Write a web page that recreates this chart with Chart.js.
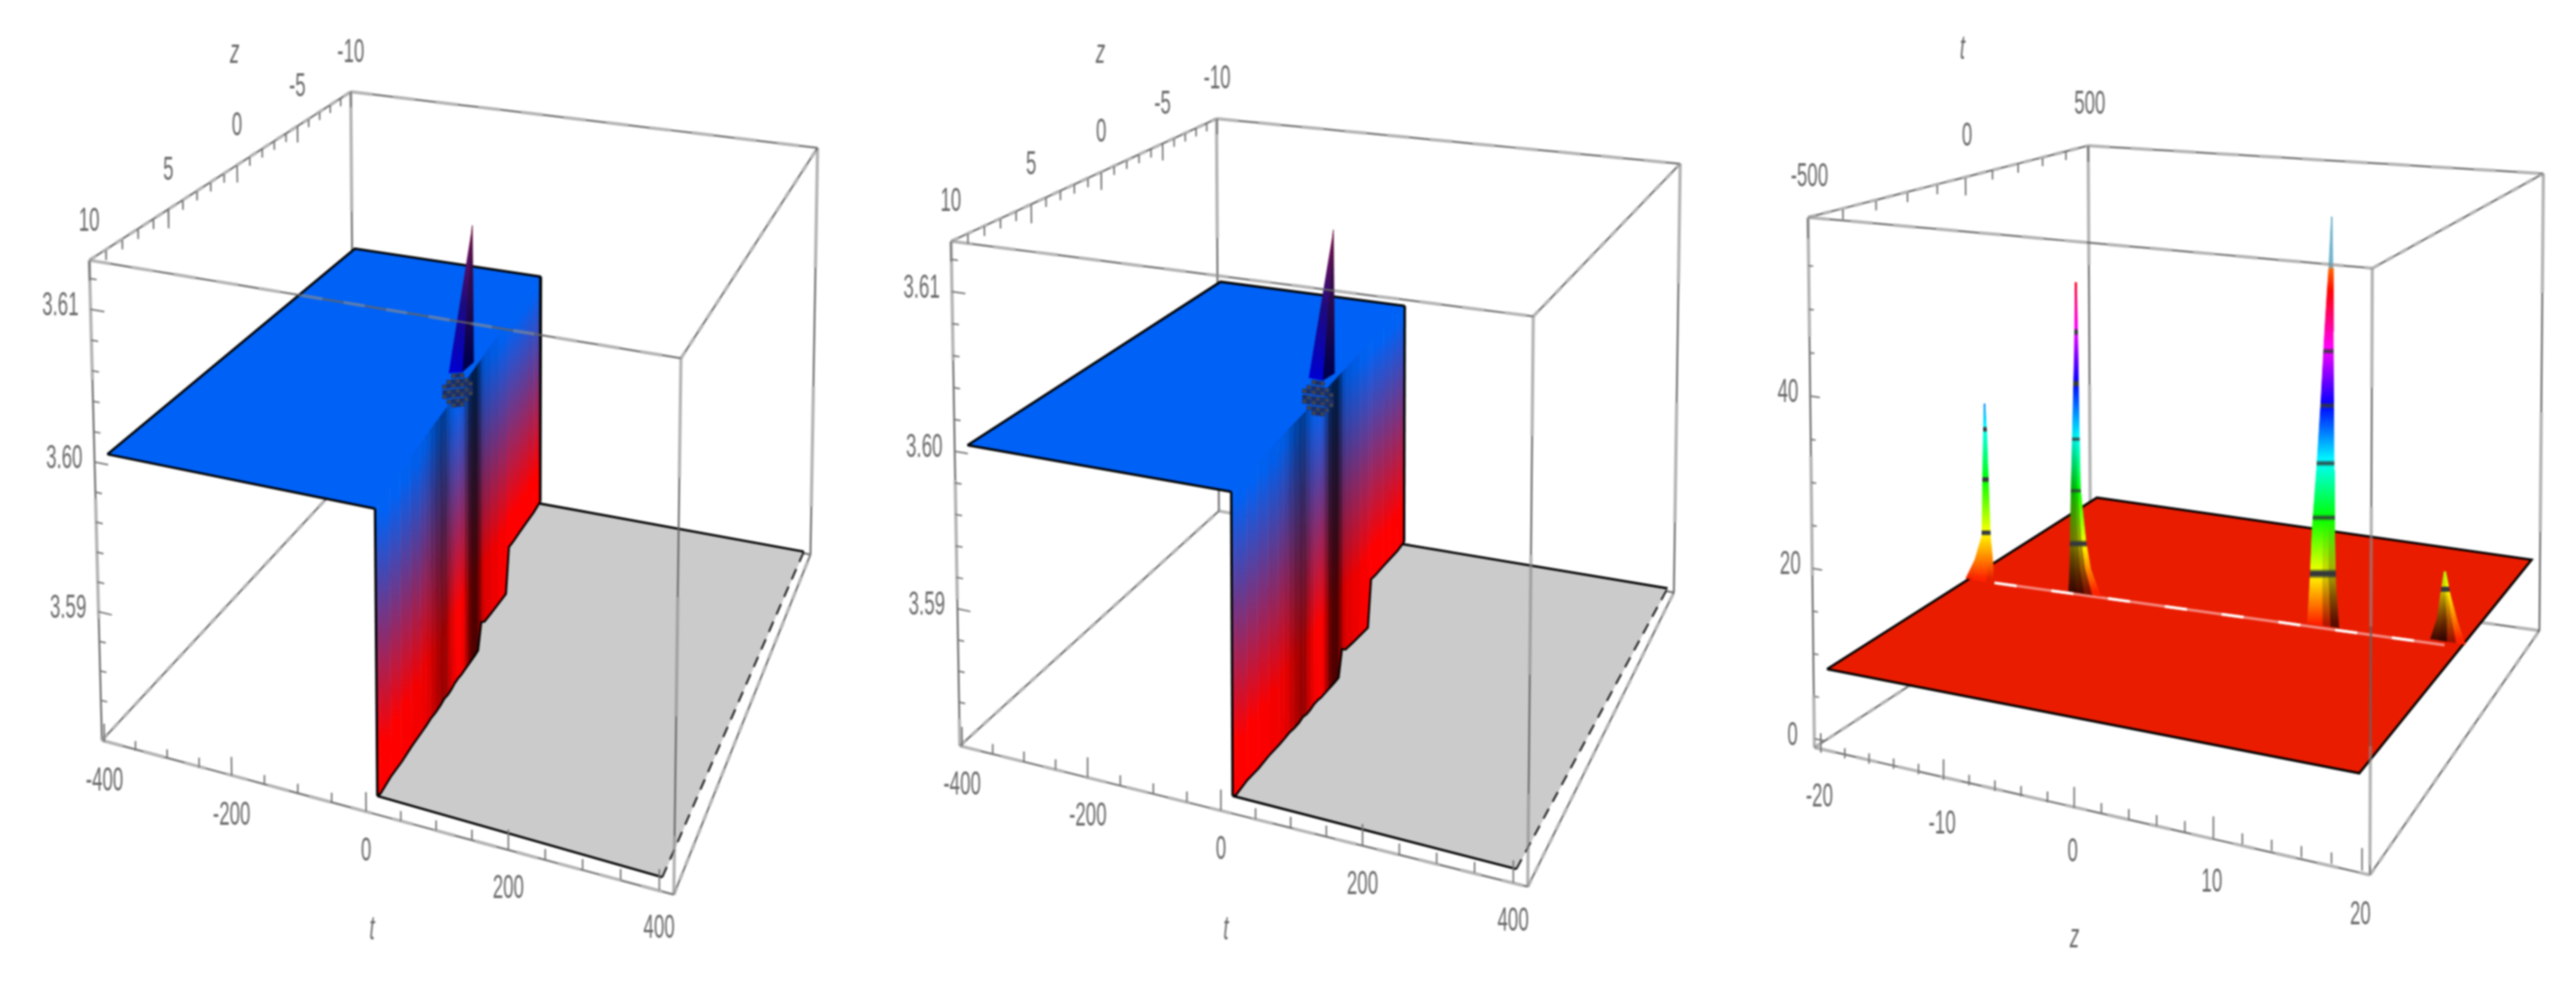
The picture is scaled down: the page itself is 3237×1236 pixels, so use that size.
<!DOCTYPE html>
<html>
<head>
<meta charset="utf-8">
<title>3D surfaces</title>
<script src="https://cdn.jsdelivr.net/npm/chart.js@4"></script>
<style>
html, body { margin: 0; background: #fff; overflow: hidden; }
canvas { position: absolute; top: 0; filter: blur(0.9px); }
</style>
</head>
<body>
<canvas id="p1" width="1080" height="1236" style="left:0"></canvas>
<canvas id="p2" width="1080" height="1236" style="left:1080px"></canvas>
<canvas id="p3" width="1077" height="1236" style="left:2160px"></canvas>
<script>
// step surface (left and middle plots)
const stepT = [-405, 420];
const stepZ = [10, -10];
const stepV = [3.5812, 3.6131];
const tMajor = [-400, -200, 0, 200, 400];
const tMinor = [-350, -300, -250, -150, -100, -50, 50, 100, 150, 250, 300, 350];
const zMajor = [10, 5, 0, -5, -10];
const zMinor = [9, 8, 7, 6, 4, 3, 2, 1, -1, -2, -3, -4, -6, -7, -8, -9];
const vMajor = [3.59, 3.6, 3.61];
const vMinor = [3.584, 3.586, 3.588, 3.592, 3.594, 3.596, 3.598, 3.602, 3.604, 3.606, 3.608, 3.612];

const plateauV = 3.6;
const plateauStart = -400;
const plateauZ = [9.4, -10];
const wallZ = [9.4, 9, 8, 7, 6, 5, 4.5, 4, 3.5, 3, 2.6, 2.2, 1.8, 1.4, 1, 0.6, 0.2, -0.2, -0.6, -1, -1.4, -1.8, -2.2, -3, -4, -5, -5.4, -6, -7, -8, -9, -10];
const wallT = [5, 2, -0.5, -3, -6, -9, -10, -11.5, -13, -14, -15, -16, -17.5, -18.5, -19.5, -21, -22, -23, -24, -25, -26.5, -27.5, -28.5, -31, -33.5, -36, -37, -39, -42, -44.5, -47, -50];
const wallBase = [3.5815, 3.5811, 3.581, 3.5807, 3.5805, 3.5802, 3.5801, 3.58, 3.5798, 3.5797, 3.5797, 3.5795, 3.5794, 3.5794, 3.5793, 3.5791, 3.579, 3.5789, 3.5788, 3.5787, 3.5786, 3.5803, 3.5799, 3.5796, 3.5793, 3.579, 3.5823, 3.5821, 3.5819, 3.5817, 3.5815, 3.5814];
const wallLight = [1, 1, 1, 1, 0.97, 0.95, 0.92, 0.85, 0.72, 0.65, 0.55, 0.7, 0.85, 0.95, 1, 1, 0.9, 0.5, 0.32, 0.3, 0.3, 0.75, 0.85, 0.92, 0.95, 1, 1, 1, 1, 1, 1, 1];
const floorT = [5, 404, 410, -65];
const floorZ = [9.4, 10, -10, -10];
const floorV = [3.5815, 3.582, 3.5815, 3.5812];
const coneZ = [1.2, -0.1, -1.2, -1.1];
const coneV = [3.6015, 3.6005, 3.6003, 3.6103];
const checkZ = [1.6, 1.2, 0.75, 0.35, -0.05, -0.5, -0.9];
const checkV = [3.5985, 3.5988, 3.5992, 3.5995, 3.5999, 3.6002, 3.6006];

// soliton sheet (right plot)
const sheetA = [-20.5, 20.5];
const sheetB = [-500, 500];
const sheetBox = [-1.5, 60.4];
const zMajor3 = [-20, -10, 0, 10, 20];
const zMinor3 = [-18, -16, -14, -12, -8, -6, -4, -2, 2, 4, 6, 8, 12, 14, 16, 18];
const tMajor3 = [-500, 0, 500];
const tMinor3 = [-400, -300, -200, -100, 100, 200, 300, 400];
const vMajor3 = [0, 20, 40];
const vMinor3 = [5, 10, 15, 25, 30, 35, 45, 50, 55];
const sheetLevel = 8.5;
const sheetZ = [-19.4, 19.8, 19.8, -19.8];
const sheetT = [-500, -500, 500, 500];
const ridgeZ = [-17.3, 18.6];
const ridgeT = [-35, 20];
const meshLevels = [15, 21.9, 28.5, 35.5, 42.3];

const spike1T = -55;
const spike1V = [9, 11.7, 15, 22.5, 28.1, 32.2];
const spike1L = [-19.4, -18.55, -17.9, -17.8, -17.7, -17.6];
const spike1R = [-16.9, -16.95, -17.15, -17.3, -17.4, -17.55];
const spike2T = -35;
const spike2V = [9, 12.3, 15.7, 22.3, 32.3, 40, 48.6];
const spike2L = [-10.72, -10.62, -10.57, -10.47, -10.27, -10.12, -10.02];
const spike2R = [-7.97, -8.82, -9.22, -9.67, -9.77, -9.82, -9.92];
const spike3T = 0;
const spike3V = [9, 14.4, 20.5, 28.2, 35.8, 45, 52.7, 58.8];
const spike3L = [8.37, 8.57, 8.72, 9.07, 9.37, 9.67, 9.97, 10.17];
const spike3R = [10.82, 10.57, 10.47, 10.42, 10.37, 10.32, 10.27, 10.22];
const spike4T = 18;
const spike4V = [9, 11.6, 14.7, 17.4];
const spike4L = [17.57, 18.07, 18.32, 18.57];
const spike4R = [20.17, 19.57, 19.02, 18.67];

// where the eight box corners land on each canvas (A B C D top, E F G H bottom)
const view1 = [[109, 325], [858, 449], [1031, 183], [440, 112], [125, 932], [849, 1127], [1022, 697], [444, 589]];
const view2 = [[112, 301], [849, 396], [1035, 203], [448, 146], [123, 939], [842, 1117], [1027, 745], [451, 642]];
const view3 = [[112, 273], [821, 337], [1036, 218], [464, 183], [120, 939], [818, 1099], [1031, 792], [467, 713]];

function solve(A, b) {
    const n = b.length;
    for (let i = 0; i < n; i++) {
        let p = i;
        for (let r = i + 1; r < n; r++) if (Math.abs(A[r][i]) > Math.abs(A[p][i])) p = r;
        [A[i], A[p]] = [A[p], A[i]];
        [b[i], b[p]] = [b[p], b[i]];
        for (let r = i + 1; r < n; r++) {
            const f = A[r][i] / A[i][i];
            for (let c = i; c < n; c++) A[r][c] -= f * A[i][c];
            b[r] -= f * b[i];
        }
    }
    const x = new Array(n).fill(0);
    for (let i = n - 1; i >= 0; i--) {
        let s = b[i];
        for (let c = i + 1; c < n; c++) s -= A[i][c] * x[c];
        x[i] = s / A[i][i];
    }
    return x;
}

// least squares perspective camera from the box corners
function makeCamera(corners, aBox, bBox, vBox) {
    const unit = [[0, 0, 1], [1, 0, 1], [1, 1, 1], [0, 1, 1], [0, 0, 0], [1, 0, 0], [1, 1, 0], [0, 1, 0]];
    const rows = [], rhs = [];
    unit.forEach((w, i) => {
        const [u, v] = corners[i];
        rows.push([w[0], w[1], w[2], 1, 0, 0, 0, 0, -u * w[0], -u * w[1], -u * w[2]]);
        rhs.push(u);
        rows.push([0, 0, 0, 0, w[0], w[1], w[2], 1, -v * w[0], -v * w[1], -v * w[2]]);
        rhs.push(v);
    });
    const N = [], M = [];
    for (let i = 0; i < 11; i++) {
        N.push([]);
        for (let j = 0; j < 11; j++) N[i].push(rows.reduce((s, r) => s + r[i] * r[j], 0));
        M.push(rows.reduce((s, r, k) => s + r[i] * rhs[k], 0));
    }
    const p = solve(N, M);
    return (a, b, v) => {
        const X = (a - aBox[0]) / (aBox[1] - aBox[0]);
        const Y = (b - bBox[0]) / (bBox[1] - bBox[0]);
        const Z = (v - vBox[0]) / (vBox[1] - vBox[0]);
        const w = p[8] * X + p[9] * Y + p[10] * Z + 1;
        return {
            x: (p[0] * X + p[1] * Y + p[2] * Z + p[3]) / w,
            y: (p[4] * X + p[5] * Y + p[6] * Z + p[7]) / w
        };
    };
}

function poly(points, color) {
    return { data: points, showLine: true, fill: 'shape', backgroundColor: color, borderColor: color, borderWidth: 1, pointRadius: 0, clip: false };
}

function line(points, color, width, dash, offset) {
    return { data: points, showLine: true, fill: false, borderColor: color, borderWidth: width, borderDash: dash || [], borderDashOffset: offset || 0, pointRadius: 0, clip: false };
}

// the gray and dark stepping of the Mathematica box lines
function boxEdge(list, p, q, dash) {
    list.push(line([p, q], 'rgba(140,140,140,0.65)', 4, [dash, dash]));
    list.push(line([p, q], 'rgba(100,100,100,0.9)', 2.5, [dash, dash], dash));
}

function ticks(list, labels, vals, at, tickDir, size, text, offset) {
    vals.forEach(val => {
        const p = at(val);
        list.push(line([p, tickDir(val, size)], '#777', 2));
        if (text) labels.push({ x: p.x + offset[0], y: p.y + offset[1], text: text(val) });
    });
}

function makeChart(id, datasets, labels, titles) {
    const canvas = document.getElementById(id);
    const textPlugin = {
        id: 'plotText',
        afterDatasetsDraw(chart) {
            const ctx = chart.ctx;
            ctx.save();
            ctx.textAlign = 'center';
            ctx.textBaseline = 'middle';
            ctx.fillStyle = '#686868';
            labels.concat(titles).forEach(l => {
                ctx.save();
                ctx.translate(chart.scales.x.getPixelForValue(l.x), chart.scales.y.getPixelForValue(l.y));
                ctx.scale(0.56, 1);
                ctx.font = (l.italic ? 'italic ' : '') + '42px "Liberation Sans"';
                ctx.fillText(l.text, 0, 0);
                ctx.restore();
            });
            ctx.restore();
        }
    };
    return new Chart(canvas, {
        type: 'scatter',
        data: { datasets: datasets.reverse() },
        plugins: [textPlugin],
        options: {
            responsive: false,
            animation: false,
            events: [],
            parsing: false,
            layout: { padding: 0 },
            plugins: { legend: { display: false }, tooltip: { enabled: false } },
            scales: {
                x: { type: 'linear', display: false, min: 0, max: canvas.width },
                y: { type: 'linear', display: false, min: 0, max: canvas.height, reverse: true }
            }
        }
    });
}

function mix(c1, c2, f) {
    return c1.map((c, i) => c + (c2[i] - c) * f);
}

function rgb(c) {
    return 'rgb(' + c.map(Math.round).join(',') + ')';
}

function stepPanel(id, corners) {
    const ctx = document.getElementById(id).getContext('2d');
    const cam = makeCamera(corners, stepT, stepZ, stepV);
    const ds = [], labels = [];
    const A = corners[0], B = corners[1], C = corners[2], D = corners[3], E = corners[4], F = corners[5], G = corners[6], H = corners[7];
    const pt = c => ({ x: c[0], y: c[1] });

    boxEdge(ds, pt(D), pt(C), 27);
    boxEdge(ds, pt(C), pt(G), 150);
    boxEdge(ds, pt(D), pt(H), 150);
    boxEdge(ds, pt(H), pt(G), 27);
    boxEdge(ds, pt(E), pt(H), 10);

    // gray floor past the step
    const floor = floorT.map((t, i) => cam(t, floorZ[i], floorV[i]));
    ds.push(poly(floor, '#cbcbcb'));
    ds.push(line([floor[0], floor[1]], '#000', 3));
    ds.push(line([floor[3], floor[2]], '#000', 3));
    ds.push(line([floor[1], floor[2]], '#222', 2.5, [14, 10]));

    // blue plateau
    const last = wallZ.length - 1;
    const plateau = [cam(plateauStart, plateauZ[0], plateauV), cam(plateauStart, plateauZ[1], plateauV), cam(wallT[last], wallZ[last], plateauV), cam(wallT[0], wallZ[0], plateauV)];
    ds.push(poly(plateau, '#0061f6'));

    // the drop, one column per z sample, fading blue to red
    const blue = [0, 98, 245], red = [255, 0, 0];
    for (let i = 0; i < last; i++) {
        const light = (wallLight[i] + wallLight[i + 1]) / 2;
        const top = cam(wallT[i], wallZ[i], plateauV), bot = cam(wallT[i], wallZ[i], 3.582);
        const g = ctx.createLinearGradient(0, top.y, 0, bot.y);
        [0, 0.03, 0.2, 0.4, 0.6, 0.85, 1].forEach(f => {
            const k = Math.min(1, Math.max(0, (f - 0.03) / 0.82));
            g.addColorStop(f, rgb(mix(blue, red, k).map(c => c * light)));
        });
        ds.push(poly([
            cam(wallT[i], wallZ[i], plateauV), cam(wallT[i + 1], wallZ[i + 1], plateauV),
            cam(wallT[i + 1], wallZ[i + 1], wallBase[i + 1]), cam(wallT[i], wallZ[i], wallBase[i])
        ], g));
    }
    ds.push(line(wallZ.map((z, i) => cam(wallT[i], z, wallBase[i])), '#000', 2.5));
    ds.push(line([plateau[0], plateau[1], plateau[2]], '#000', 3));
    ds.push(line([plateau[0], plateau[3]], '#000', 3));
    ds.push(line([plateau[3], cam(wallT[0], wallZ[0], wallBase[0])], '#000', 3));
    ds.push(line([plateau[2], cam(wallT[last], wallZ[last], wallBase[last])], '#000', 3));

    // cone on top of the drop
    const coneT = -30;
    const c = coneZ.map((z, i) => cam(coneT, z, coneV[i]));
    const g1 = ctx.createLinearGradient(0, c[0].y, 0, c[3].y);
    g1.addColorStop(0, '#0000d0');
    g1.addColorStop(0.45, '#1c0a80');
    g1.addColorStop(1, '#8a1048');
    const g2 = ctx.createLinearGradient(0, c[2].y, 0, c[3].y);
    g2.addColorStop(0, '#00004c');
    g2.addColorStop(0.5, '#2a0a50');
    g2.addColorStop(1, '#5c0a34');
    ds.push(poly([c[0], c[1], c[3]], g1));
    ds.push(poly([c[1], c[2], c[3]], g2));

    // patch of mesh lines at the foot of the cone, kept level against the slope of the drop
    const meshUnder = [], meshOver = [];
    checkZ.forEach((z, i) => checkV.forEach((v, j) => {
        const dx = i - 3, dy = j - 3;
        if (dx * dx + dy * dy > 11) return;
        const p = cam(coneT, z, v + 0.00075 * (z - checkZ[3]));
        meshUnder.push(p);
        if ((i + j) % 2 === 0) meshOver.push(p);
    }));
    ds.push({ data: meshUnder, showLine: false, pointStyle: 'rect', pointRadius: 4, pointBackgroundColor: '#1c2f66', pointBorderWidth: 0, clip: false });
    ds.push({ data: meshOver, showLine: false, pointStyle: 'rect', pointRadius: 3, pointBackgroundColor: '#43464c', pointBorderWidth: 0, clip: false });

    // front of the box goes over the surface
    boxEdge(ds, pt(A), pt(D), 10);
    boxEdge(ds, pt(B), pt(C), 10);
    boxEdge(ds, pt(A), pt(B), 27);
    boxEdge(ds, pt(A), pt(E), 150);
    boxEdge(ds, pt(B), pt(F), 150);
    boxEdge(ds, pt(E), pt(F), 27);
    boxEdge(ds, pt(F), pt(G), 10);

    const tAt = t => cam(t, stepZ[0], stepV[0]);
    const tTick = (t, s) => cam(t, stepZ[0], stepV[0] + s * 0.00125);
    ticks(ds, labels, tMajor, tAt, tTick, 1, t => String(t), [0, 50]);
    ticks(ds, labels, tMinor, tAt, tTick, 0.5);
    const zAt = z => cam(stepT[0], z, stepV[1]);
    const zTick = (z, s) => cam(stepT[0], z, stepV[1] - s * 0.00125);
    ticks(ds, labels, zMajor, zAt, zTick, 1, z => String(z), [0, -50]);
    ticks(ds, labels, zMinor, zAt, zTick, 0.5);
    const vAt = v => cam(stepT[0], stepZ[0], v);
    const vTick = (v, s) => cam(stepT[0] + s * 22, stepZ[0], v);
    ticks(ds, labels, vMajor, vAt, vTick, 1, v => v.toFixed(2), [-38, -4]);
    ticks(ds, labels, vMinor, vAt, vTick, 0.5);

    const titles = [
        { x: corners[3][0] - 147, y: 64, text: 'z', italic: true },
        { x: corners[5][0] - 382, y: 1172, text: 't', italic: true }
    ];
    makeChart(id, ds, labels, titles);
}

function hsl(h, shade) {
    const f = n => {
        const k = (n + h / 30) % 12;
        return 255 * (0.5 - 0.5 * Math.max(-1, Math.min(k - 3, 9 - k, 1)));
    };
    return [f(0), f(8), f(4)].map(c => c * shade);
}

function drawSpike(ds, ctx, cam, t, vals, left, right, shades, lift) {
    const n = shades.length;
    const y0 = cam(t, left[0], vals[0]).y, y1 = cam(t, left[0], vals[vals.length - 1]).y;
    for (let k = 0; k < n; k++) {
        const g = ctx.createLinearGradient(0, y0, 0, y1);
        for (let s = 0; s <= 120; s++) {
            const f = s / 120;
            const v = vals[0] + f * (vals[vals.length - 1] - vals[0]);
            const light = shades[k] + (1 - shades[k]) * Math.min(1, f / lift);
            const hue = 8 + 8.7 * (v - vals[0]);
            const onMesh = meshLevels.some(m => Math.abs(m - v) < 0.3);
            g.addColorStop(f, onMesh ? '#33383a' : hue > 385 ? '#6fb4cc' : rgb(hsl(hue, light)));
        }
        const up = vals.map((v, i) => cam(t, left[i] + (right[i] - left[i]) * k / n, v));
        const down = vals.map((v, i) => cam(t, left[i] + (right[i] - left[i]) * (k + 1) / n, v)).reverse();
        ds.push(poly(up.concat(down), g));
    }
}

function sheetPanel(id, corners) {
    const ctx = document.getElementById(id).getContext('2d');
    const rawCam = makeCamera(corners, sheetA, sheetB, sheetBox);
    const cam = (t, z, v) => rawCam(z, t, v);
    const ds = [], labels = [];
    const pt = c => ({ x: c[0], y: c[1] });
    const A = corners[0], B = corners[1], C = corners[2], D = corners[3], E = corners[4], F = corners[5], G = corners[6], H = corners[7];

    boxEdge(ds, pt(D), pt(C), 27);
    boxEdge(ds, pt(C), pt(G), 150);
    boxEdge(ds, pt(D), pt(H), 150);
    boxEdge(ds, pt(H), pt(G), 27);
    boxEdge(ds, pt(E), pt(H), 10);

    const sheet = sheetZ.map((z, i) => cam(sheetT[i], z, sheetLevel));
    ds.push(poly(sheet, '#e91c00'));
    ds.push(line(sheet.concat([sheet[0]]), '#000', 3));

    const ridge = ridgeZ.map((z, i) => cam(ridgeT[i], z, sheetLevel));
    ds.push(line(ridge, '#f58a80', 3.5));
    ds.push(line(ridge, '#fff', 3.5, [28, 44]));

    drawSpike(ds, ctx, cam, spike1T, spike1V, spike1L, spike1R, [0.95, 1, 1, 0.9], 0.1);
    drawSpike(ds, ctx, cam, spike2T, spike2V, spike2L, spike2R, [0.22, 0.28, 0.5, 1], 0.55);
    drawSpike(ds, ctx, cam, spike3T, spike3V, spike3L, spike3R, [1, 1, 0.7, 0.35], 0.25);
    drawSpike(ds, ctx, cam, spike4T, spike4V, spike4L, spike4R, [0.25, 0.2, 0.6, 1], 1);

    boxEdge(ds, pt(A), pt(D), 10);
    boxEdge(ds, pt(B), pt(C), 10);
    boxEdge(ds, pt(A), pt(B), 27);
    boxEdge(ds, pt(A), pt(E), 150);
    boxEdge(ds, pt(B), pt(F), 150);
    boxEdge(ds, pt(E), pt(F), 27);
    boxEdge(ds, pt(F), pt(G), 10);

    const zAt = z => cam(sheetB[0], z, sheetBox[0]);
    const zTick = (z, s) => cam(sheetB[0], z, sheetBox[0] + s * 2.3);
    ticks(ds, labels, zMajor3, zAt, zTick, 1, z => String(z), [-2, 56]);
    ticks(ds, labels, zMinor3, zAt, zTick, 0.5);
    const tAt = t => cam(t, sheetA[0], sheetBox[1]);
    const tTick = (t, s) => cam(t, sheetA[0], sheetBox[1] - s * 2.3);
    ticks(ds, labels, tMajor3, tAt, tTick, 1, t => String(t), [2, -52]);
    ticks(ds, labels, tMinor3, tAt, tTick, 0.5);
    const vAt = v => cam(sheetB[0], sheetA[0], v);
    const vTick = (v, s) => cam(sheetB[0], sheetA[0] + s * 0.8, v);
    ticks(ds, labels, vMajor3, vAt, vTick, 1, v => String(v), [-28, -4]);
    ticks(ds, labels, vMinor3, vAt, vTick, 0.5);

    const titles = [
        { x: 306, y: 62, text: 't', italic: true },
        { x: 447, y: 1178, text: 'z', italic: true }
    ];
    makeChart(id, ds, labels, titles);
}

stepPanel('p1', view1);
stepPanel('p2', view2);
sheetPanel('p3', view3);
</script>
</body>
</html>
